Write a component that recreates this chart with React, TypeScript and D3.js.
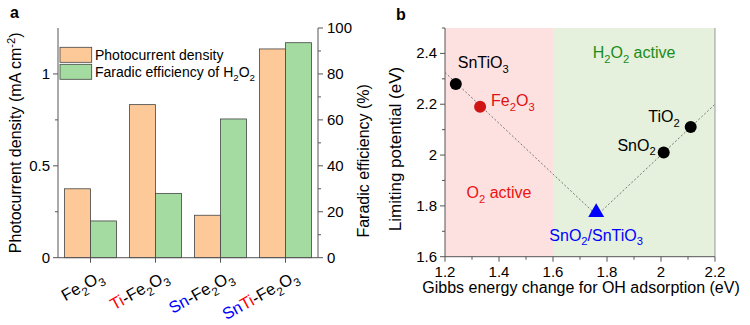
import React from "react";
import * as d3 from "d3";

const categories = ["Fe2O3", "Ti-Fe2O3", "Sn-Fe2O3", "SnTi-Fe2O3"];
const photocurrent = [0.375, 0.833, 0.231, 1.136];
const faradic = [16, 28, 60.4, 93.6];
const leftTicks = [0, 0.5, 1];
const leftMinor = [0.25, 0.75];
const rightTicks = [0, 20, 40, 60, 80, 100];
const rightMinor = [10, 30, 50, 70, 90];

const materials = ["SnTiO3", "Fe2O3", "SnO2", "TiO2", "SnO2/SnTiO3"];
const gibbs = [1.24, 1.33, 2.01, 2.11, 1.76];
const limiting = [2.28, 2.19, 2.01, 2.11, 1.77];
const volcanoX = [1.2, 1.7625, 2.2];
const volcanoY = [2.325, 1.7625, 2.2];
const bxTicks = [1.2, 1.4, 1.6, 1.8, 2.0, 2.2];
const bxMinor = [1.3, 1.5, 1.7, 1.9, 2.1];
const byTicks = [1.6, 1.8, 2.0, 2.2, 2.4];
const byMinor = [1.7, 1.9, 2.1, 2.3, 2.5];

const FONT = "Arial, 'Liberation Sans', sans-serif";
const AX = "#555";

type Seg = { t: string; sub?: boolean; sup?: boolean; c?: string };

function Rich({ segs, size, ...rest }: { segs: Seg[]; size: number; [k: string]: any }) {
  const out: any[] = [];
  let shift = 0;
  segs.forEach((s, i) => {
    const target = s.sub ? size * 0.3 : s.sup ? -size * 0.4 : 0;
    const dy = target - shift;
    shift = target;
    out.push(
      <tspan key={i} dy={dy} fontSize={s.sub || s.sup ? size * 0.7 : size} fill={s.c}>
        {s.t}
      </tspan>
    );
  });
  return (
    <text fontFamily={FONT} fontSize={size} {...rest}>
      {out}
    </text>
  );
}

const catSegs: Seg[][] = [
  [{ t: "Fe" }, { t: "2", sub: true }, { t: "O" }, { t: "3", sub: true }],
  [{ t: "Ti", c: "#ff0000" }, { t: "-Fe" }, { t: "2", sub: true }, { t: "O" }, { t: "3", sub: true }],
  [{ t: "Sn", c: "#0000ff" }, { t: "-Fe" }, { t: "2", sub: true }, { t: "O" }, { t: "3", sub: true }],
  [{ t: "Sn", c: "#0000ff" }, { t: "Ti", c: "#ff0000" }, { t: "-Fe" }, { t: "2", sub: true }, { t: "O" }, { t: "3", sub: true }],
];

function PanelA() {
  const x0 = 58, x1 = 318, yTop = 28, yBot = 257.7;
  const xb = d3.scaleBand<string>().domain(categories).range([x0, x1]).padding(0);
  const yl = d3.scaleLinear().domain([0, 1.25]).range([yBot, yTop]);
  const yr = d3.scaleLinear().domain([0, 100]).range([yBot, yTop]);
  const bw = xb.bandwidth() * 0.4;
  return (
    <g>
      <text x={10} y={18} fontFamily={FONT} fontWeight="bold" fontSize={16}>a</text>
      {categories.map((c, i) => {
        const cx = xb(c)! + xb.bandwidth() / 2;
        return (
          <g key={c}>
            <rect x={cx - bw} y={yl(photocurrent[i])} width={bw} height={yBot - yl(photocurrent[i])} fill="#fdc999" stroke="#444" strokeWidth={0.8} />
            <rect x={cx} y={yr(faradic[i])} width={bw} height={yBot - yr(faradic[i])} fill="#a3dba1" stroke="#444" strokeWidth={0.8} />
          </g>
        );
      })}
      <line x1={x0} x2={x0} y1={yTop} y2={yBot} stroke={AX} />
      <line x1={x1} x2={x1} y1={yTop} y2={yBot} stroke={AX} />
      <line x1={x0} x2={x1} y1={yBot} y2={yBot} stroke={AX} />
      {leftTicks.map((t) => (
        <g key={t}>
          <line x1={x0 - 5} x2={x0} y1={yl(t)} y2={yl(t)} stroke={AX} />
          <text x={x0 - 8} y={yl(t) + 5} textAnchor="end" fontFamily={FONT} fontSize={15}>{String(t)}</text>
        </g>
      ))}
      {leftMinor.map((t) => (
        <line key={t} x1={x0 - 3} x2={x0} y1={yl(t)} y2={yl(t)} stroke={AX} />
      ))}
      {rightTicks.map((t) => (
        <g key={t}>
          <line x1={x1} x2={x1 + 5} y1={yr(t)} y2={yr(t)} stroke={AX} />
          <text x={x1 + 9} y={yr(t) + 5} textAnchor="start" fontFamily={FONT} fontSize={15}>{String(t)}</text>
        </g>
      ))}
      {rightMinor.map((t) => (
        <line key={t} x1={x1} x2={x1 + 3} y1={yr(t)} y2={yr(t)} stroke={AX} />
      ))}
      {categories.map((c, i) => {
        const cx = xb(c)! + xb.bandwidth() / 2;
        return (
          <g key={c}>
            <line x1={cx} x2={cx} y1={yBot} y2={yBot + 5} stroke={AX} />
            <Rich segs={catSegs[i]} size={16.5} textAnchor="end" transform={`translate(${cx + 14},${yBot + 22}) rotate(-29)`} />
          </g>
        );
      })}
      <rect x={60} y={47.3} width={31.7} height={15} fill="#fdc999" stroke="#444" strokeWidth={0.8} />
      <rect x={60} y={64.3} width={31.7} height={15} fill="#a3dba1" stroke="#444" strokeWidth={0.8} />
      <text x={95} y={60} fontFamily={FONT} fontSize={14}>Photocurrent density</text>
      <Rich x={95} y={77} size={14} segs={[{ t: "Faradic efficiency of H" }, { t: "2", sub: true }, { t: "O" }, { t: "2", sub: true }]} />
      <Rich size={16} textAnchor="middle" transform={`translate(21,${(yTop + yBot) / 2}) rotate(-90)`}
        segs={[{ t: "Photocurrent density (mA cm" }, { t: "-2", sup: true }, { t: ")" }]} />
      <text transform={`translate(369,${(yTop + yBot) / 2 + 18}) rotate(-90)`} textAnchor="middle" fontFamily={FONT} fontSize={16}>
        Faradic efficiency (%)
      </text>
    </g>
  );
}

const labelSegs: Seg[][] = [
  [{ t: "SnTiO" }, { t: "3", sub: true }],
  [{ t: "Fe" }, { t: "2", sub: true }, { t: "O" }, { t: "3", sub: true }],
  [{ t: "SnO" }, { t: "2", sub: true }],
  [{ t: "TiO" }, { t: "2", sub: true }],
  [{ t: "SnO" }, { t: "2", sub: true }, { t: "/SnTiO" }, { t: "3", sub: true }],
];
const labelPos = [
  { dx: 2, dy: -16, anchor: "start", c: "#000" },
  { dx: 11, dy: -1, anchor: "start", c: "#dd1111" },
  { dx: -8, dy: -2, anchor: "end", c: "#000" },
  { dx: -11, dy: -5, anchor: "end", c: "#000" },
  { dx: 0, dy: 27, anchor: "middle", c: "#0000ff" },
];

function PanelB() {
  const x0 = 445, x1 = 715, yTop = 28, yBot = 256.7;
  const x = d3.scaleLinear().domain([1.2, 2.2]).range([x0, x1]);
  const y = d3.scaleLinear().domain([1.6, 2.5]).range([yBot, yTop]);
  const line = d3.line<number>().x((d, i) => x(volcanoX[i])).y((d, i) => y(volcanoY[i]));
  const tri = d3.symbol().type(d3.symbolTriangle).size(110)();
  return (
    <g>
      <text x={396} y={20} fontFamily={FONT} fontWeight="bold" fontSize={16}>b</text>
      <rect x={x(1.2)} y={yTop} width={x(1.6) - x(1.2)} height={yBot - yTop} fill="#fde1e1" />
      <rect x={x(1.6)} y={yTop} width={x(2.2) - x(1.6)} height={yBot - yTop} fill="#e5f0dd" />
      <path d={line(volcanoX)!} fill="none" stroke="#777" strokeWidth={1} strokeDasharray="2,2" />
      {materials.map((m, i) => {
        const px = x(gibbs[i]), py = y(limiting[i]);
        const lp = labelPos[i];
        return (
          <g key={m}>
            {i === 4 ? (
              <path d={tri!} transform={`translate(${px},${py - 1})`} fill="#0000ff" />
            ) : (
              <circle cx={px} cy={py} r={6} fill={i === 1 ? "#d01414" : "#000"} />
            )}
            <Rich segs={labelSegs[i]} size={16} x={px + lp.dx} y={py + lp.dy} textAnchor={lp.anchor} fill={lp.c} />
          </g>
        );
      })}
      <Rich segs={[{ t: "H" }, { t: "2", sub: true }, { t: "O" }, { t: "2", sub: true }, { t: " active" }]} size={16}
        x={x(1.9)} y={58} textAnchor="middle" fill="#1a8c1a" />
      <Rich segs={[{ t: "O" }, { t: "2", sub: true }, { t: " active" }]} size={16}
        x={x(1.4)} y={198} textAnchor="middle" fill="#ee1111" />
      <line x1={x0} x2={x0} y1={yTop} y2={yBot} stroke={AX} />
      <line x1={x1} x2={x1} y1={yTop} y2={yBot} stroke="#999" />
      <line x1={x0} x2={x1} y1={yBot} y2={yBot} stroke={AX} />
      {bxTicks.map((t) => (
        <g key={t}>
          <line x1={x(t)} x2={x(t)} y1={yBot} y2={yBot + 5} stroke={AX} />
          <text x={x(t)} y={yBot + 20} textAnchor="middle" fontFamily={FONT} fontSize={15}>{d3.format("~g")(t)}</text>
        </g>
      ))}
      {bxMinor.map((t) => (
        <line key={t} x1={x(t)} x2={x(t)} y1={yBot} y2={yBot + 3} stroke={AX} />
      ))}
      {byTicks.map((t) => (
        <g key={t}>
          <line x1={x0 - 5} x2={x0} y1={y(t)} y2={y(t)} stroke={AX} />
          <text x={x0 - 8} y={y(t) + 5} textAnchor="end" fontFamily={FONT} fontSize={15}>{d3.format("~g")(t)}</text>
        </g>
      ))}
      {byMinor.map((t) => (
        <line key={t} x1={x0 - 3} x2={x0} y1={y(t)} y2={y(t)} stroke={AX} />
      ))}
      <text x={581} y={yBot + 36} textAnchor="middle" fontFamily={FONT} fontSize={16}>
        Gibbs energy change for OH adsorption (eV)
      </text>
      <text transform={`translate(401,149) rotate(-90)`} textAnchor="middle" fontFamily={FONT} fontSize={17}>
        Limiting potential (eV)
      </text>
    </g>
  );
}

export default function App() {
  return (
    <svg width={750} height={325} style={{ position: "absolute", left: 0, top: 0, background: "#fff" }}>
      <rect width={750} height={325} fill="#fff" />
      <PanelA />
      <PanelB />
    </svg>
  );
}
